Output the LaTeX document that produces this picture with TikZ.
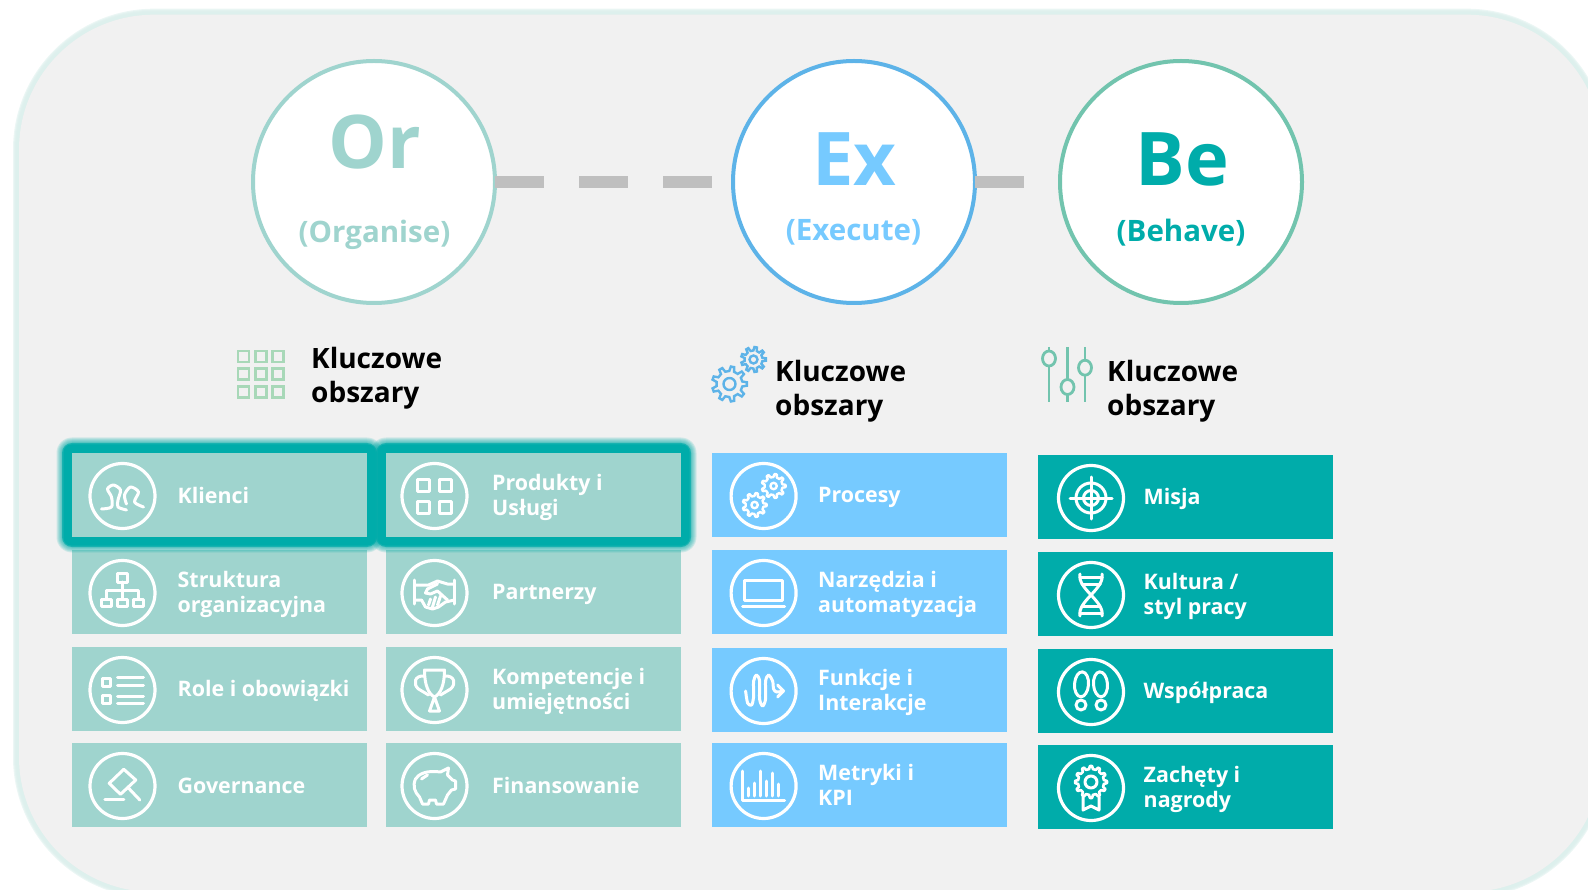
\documentclass[tikz,border=0pt]{standalone}
\usepackage{fontspec}
\setmainfont{Open Sans}
\usetikzlibrary{calc}
\definecolor{panelc}{HTML}{F1F1F1}
\definecolor{panelg}{HTML}{DCEFEC}
\definecolor{orc}{HTML}{9FD4CE}
\definecolor{exc}{HTML}{76CAFF}
\definecolor{exs}{HTML}{5DB3E8}
\definecolor{bec}{HTML}{00ACAA}
\definecolor{bes}{HTML}{72C4AE}
\definecolor{dashc}{HTML}{BFBFBF}
\definecolor{gridc}{HTML}{A8D8B8}
\newcommand{\bigfs}{\fontsize{74}{74}\selectfont\bfseries}
\newcommand{\subfs}{\fontsize{29.5}{34}\selectfont\bfseries}
\newcommand{\headfs}{\fontsize{28}{34}\selectfont\bfseries}
\newcommand{\tilefs}{\fontsize{21.4}{25.4}\selectfont\bfseries}
% centre, teeth, root radius, tip radius
\newcommand{\gearshape}[5][]{%
  \draw[#1,shift={(#2)}] (360/#3-99/#3:#4)
    \foreach \k [evaluate=\k as \a using 360*\k/#3] in {1,...,#3}
      { -- (\a-99/#3:#4) -- (\a-50/#3:#5) -- (\a+50/#3:#5) -- (\a+99/#3:#4) } -- cycle;}
\tikzset{
  x=1pt,y=-1pt,
  tilebox/.style={rectangle,minimum width=295pt,minimum height=84pt,inner sep=0pt,outer sep=0pt,anchor=north west},
  tilelabel/.style={anchor=west,align=left,text=white,inner sep=0pt,font=\tilefs},
  iconring/.style={circle,draw=white,line width=3.2pt,minimum size=65pt,inner sep=0pt},
  icn/.style={draw=white,line width=3pt,line join=round,line cap=round},
  bigcircle/.style={circle,fill=white,line width=4pt,minimum size=242pt,inner sep=0pt,outer sep=0pt},
  headlabel/.style={anchor=base west,align=left,text=black,inner sep=0pt,font=\headfs},
  link/.style={draw=dashc,line width=11.5pt},
  ic klienci/.pic={
    \draw[icn] plot[smooth] coordinates {(-21,13) (-11,11) (-11,1) (-15,-7) (-9,-11) (-2,-6) (-4.5,4) (-4.5,11) (4,14)};
    \draw[icn] plot[smooth] coordinates {(4,8) (2,-1) (8,-9) (16,-4) (12,6) (21,11)};
  },
  ic produkty/.pic={
    \foreach \a in {-11,11}\foreach \b in {-11,11}
      \draw[icn] (\a-6,\b-6) rectangle (\a+6,\b+6);
  },
  ic struktura/.pic={
    \draw[icn] (-5,-20) rectangle (5,-11);
    \draw[icn] (0,-11) -- (0,6) (-16,6) -- (-16,-3) -- (16,-3) -- (16,6);
    \foreach \a in {-16,0,16}\draw[icn] (\a-5,6) rectangle (\a+5,13);
  },
  ic partner/.pic={
    \draw[icn] (-20,-13) -- (-20,11) (20,-13) -- (20,11);
    \draw[icn] (-20,-8) -- (-6,-8) -- (3,-12) -- (13,-9) -- (20,-9);
    \draw[icn] (-20,7) -- (-13,7) -- (-9,14) -- (-2,16) -- (4,14) -- (11,9) -- (20,7);
    \draw[icn] (3,-9) -- (-7,-4) -- (-9,0) -- (-4,1) -- (3,-2) -- (13,7);
    \draw[icn] (-4,6) -- (-6,12) (1,4) -- (-2,14) (6,3) -- (3,12);
  },
  ic role/.pic={
    \draw[icn] (-20,-12) rectangle (-12,-4) (-20,5) rectangle (-12,13);
    \draw[icn] (-5,-13) -- (21,-13) (-5,-5) -- (21,-5) (-5,6) -- (21,6) (-5,13) -- (21,13);
  },
  ic trophy/.pic={
    \draw[icn] (-10,-20) -- (10,-20) .. controls (10,-5) and (6,4) .. (0,7) .. controls (-6,4) and (-10,-5) .. (-10,-20) -- cycle;
    \draw[icn] (-10,-14) .. controls (-20,-15) and (-22,-6) .. (-16,-1) -- (-6,5);
    \draw[icn] (10,-14) .. controls (20,-15) and (22,-6) .. (16,-1) -- (6,5);
    \draw[icn] (0,7) -- (-5,21) -- (5,21) -- cycle;
  },
  ic gavel/.pic={
    \draw[icn] (1.3,-16.7) -- (13.3,-6) -- (-2,8.3) -- (-13.3,-2.7) -- cycle;
    \draw[icn] (5.7,1.7) -- (17.3,14);
    \draw[icn] (-17.7,13.3) -- (1.3,13.3);
  },
  ic piggy/.pic={
    \draw[icn] (6,-14) -- (14,-18) -- (13,-11) -- (18,-6) -- (21,-5) -- (21,3) -- (17,4) -- (13,9) -- (9,18) -- (2,18) -- (1,14) -- (-5,14) -- (-6,18) -- (-12,18) -- (-15,11) .. controls (-20,6) and (-22,0) .. (-19,-7) .. controls (-16,-12) and (-8,-16) .. (6,-14) -- cycle;
    \draw[icn] (-13,-7) -- (-7,-11);
  },
  ic gears/.pic={
    \gearshape[icn,line width=2.4pt]{10,-10}{9}{9}{12}
    \gearshape[icn,line width=2.4pt]{-9,9}{9}{9}{12}
    \draw[icn,line width=2.4pt] (10,-10) circle (3.2) (-9,9) circle (3.2);
  },
  ic laptop/.pic={
    \draw[icn] (-19,-13) rectangle (19,7);
    \draw[icn] (-21,13) -- (21,13);
  },
  ic wave/.pic={
    \draw[icn] plot[smooth] coordinates {(-18,0) (-16,12) (-12,14) (-10,6) (-10,-10) (-7,-16) (-4,-10) (-4,8) (-1,15) (2,8) (2,-10) (5,-16) (9,-10) (10,-2) (13,1) (20,0)};
    \draw[icn] (14,-6) -- (20,0) -- (14,6);
  },
  ic chart/.pic={
    \draw[icn] (-21,-15) -- (-21,14) -- (21,14);
    \draw[icn] (-15,10) -- (-15,2) (-9,10) -- (-9,-3) (-3,10) -- (-3,-15) (3,10) -- (3,-5) (9,10) -- (9,-13) (15,10) -- (15,-2);
  },
  ic target/.pic={
    \draw[icn] (0,0) circle (15) (0,0) circle (7.5);
    \draw[icn] (-21,0) -- (21,0) (0,-21) -- (0,21);
  },
  ic dna/.pic={
    \draw[icn] (-11,-21) .. controls (-14,-6) and (14,6) .. (11,21);
    \draw[icn] (11,-21) .. controls (14,-6) and (-14,6) .. (-11,21);
    \draw[icn] (-11,-18) -- (11,-18) (-9,-11) -- (9,-11) (-9,11) -- (9,11) (-11,18) -- (11,18);
  },
  ic steps/.pic={
    \draw[icn,rotate=-4] (-10,-7) ellipse (7 and 12.5);
    \draw[icn,rotate=4] (10,-7) ellipse (7 and 12.5);
    \draw[icn] (-10,13) circle (5) (10,13) circle (5);
  },
  ic rosette/.pic={
    \gearshape[icn,line width=2.6pt]{0,-6}{12}{13}{16}
    \draw[icn] (0,-6) circle (6);
    \draw[icn] (-8,9) -- (-8,22) -- (0,18) -- (8,22) -- (8,9);
  }
}
\newcommand{\tile}[8]{% name x y colour iconoffset icon text textoffset
  \node[tilebox,fill=#4] (#1) at (#2,#3) {};
  \node[iconring] (#1i) at ($(#1.west)+(#5,1)$) {};
  \pic at (#1i) {#6};
  \node[tilelabel] (#1t) at ($(#1.west)+(#8,0)$) {\rule{0pt}{21pt}#7\rule[-5pt]{0pt}{5pt}};
}
\newcommand{\glowat}[2]{%
  \foreach \e in {15.5,14.5,13.5,12.5,11.5,10.5,9.5}
    \fill[bec,opacity=.14,rounded corners=\e pt] (#1-\e,#2-\e) rectangle (#1+295+\e,#2+84+\e);
  \fill[bec,opacity=.7,rounded corners=10pt] (#1-10,#2-10) rectangle (#1+295+10,#2+84+10);
  \fill[bec,rounded corners=8pt] (#1-8.5,#2-8.5) rectangle (#1+295+8.5,#2+84+8.5);
}
\begin{document}
\begin{tikzpicture}
\useasboundingbox (0,0) rectangle (1588,890);
\clip (0,0) rectangle (1588,890);
% panel
\foreach \w in {12,10,8,6}
  \draw[panelg,opacity=.55,line width=\w pt,rounded corners=135pt] (19,14.7) rectangle (1602,892);
\fill[panelc,rounded corners=135pt] (19,14.7) rectangle (1602,892);
% circles
\node[bigcircle,draw=orc] (Or) at (374,182) {};
\node[bigcircle,draw=exs] (Ex) at (854,182) {};
\node[bigcircle,draw=bes] (Be) at (1181,182) {};
\draw[link,dash pattern=on 48.5pt off 35.5pt] (Or.east) -- (Ex.west);
\draw[link,dash pattern=on 48.5pt off 200pt] (Ex.east) -- (Be.west);
\node[anchor=base,text=orc,inner sep=0pt,font=\bigfs] (OrT) at (375,169) {Or};
\node[anchor=base,text=orc,inner sep=0pt,font=\subfs] (OrS) at (374.5,243) {(Organise)};
\node[anchor=base,text=exc,inner sep=0pt,font=\bigfs] (ExT) at (854.5,186) {Ex};
\node[anchor=base,text=exc,inner sep=0pt,font=\subfs] (ExS) at (853.5,241) {(Execute)};
\node[anchor=base,text=bec,inner sep=0pt,font=\bigfs] (BeT) at (1182,186) {Be};
\node[anchor=base,text=bec,inner sep=0pt,font=\subfs] (BeS) at (1181,242) {(Behave)};
% headers
\node[headlabel] (h1) at (311,402.5) {Kluczowe\\obszary};
\node[headlabel] (h2) at (775,415.5) {Kluczowe\\obszary};
\node[headlabel] (h3) at (1107,415.5) {Kluczowe\\obszary};
% grid icon
\foreach \a in {243.5,261,278}\foreach \b in {356.5,374,392}
  \draw[gridc,line width=2.4pt] (\a-5.5,\b-5.5) rectangle (\a+5.5,\b+5.5);
% gears icon
\gearshape[exs,line width=2.4pt]{729.5,384}{9}{13}{17.5}
\draw[exs,line width=2.4pt] (729.5,384) circle (6);
\gearshape[exs,line width=2.4pt]{753.5,359.5}{9}{9}{12.5}
\draw[exs,line width=2.4pt] (753.5,359.5) circle (4);
% sliders icon
\draw[bes,line width=2.8pt] (1049,347) -- (1049,402) (1067.5,347) -- (1067.5,402) (1085,347) -- (1085,402);
\draw[bes,line width=2.8pt,fill=panelc] (1049,358.5) ellipse (6.5 and 7.5) (1067.5,387) ellipse (6.5 and 7.5) (1085,367.7) ellipse (6.5 and 7.5);
% tiles: rows two to four
\tile{a2}{72}{550}{orc}{50.5}{ic struktura}{Struktura\\organizacyjna}{105.5}
\tile{a3}{72}{647}{orc}{50.5}{ic role}{Role i obowiązki}{105.5}
\tile{a4}{72}{743}{orc}{50.5}{ic gavel}{Governance}{105.5}
\tile{b2}{386}{550}{orc}{48.5}{ic partner}{Partnerzy}{106}
\tile{b3}{386}{647}{orc}{48.5}{ic trophy}{Kompetencje i\\umiejętności}{106}
\tile{b4}{386}{743}{orc}{48.5}{ic piggy}{Finansowanie}{106}
\glowat{72}{453}
\glowat{386}{453}
\tile{a1}{72}{453}{orc}{50.5}{ic klienci}{Klienci}{105.5}
\tile{b1}{386}{453}{orc}{48.5}{ic produkty}{Produkty i\\Usługi}{106}
\tile{c1}{712}{453}{exc}{51.6}{ic gears}{Procesy}{106}
\tile{c2}{712}{550}{exc}{51.6}{ic laptop}{Narzędzia i\\automatyzacja}{106}
\tile{c3}{712}{648}{exc}{51.6}{ic wave}{Funkcje i\\Interakcje}{106}
\tile{c4}{712}{743}{exc}{51.6}{ic chart}{Metryki i\\KPI}{106}
\tile{d1}{1038}{455}{bec}{53}{ic target}{Misja}{105.5}
\tile{d2}{1038}{552}{bec}{53}{ic dna}{Kultura /\\styl pracy}{105.5}
\tile{d3}{1038}{649}{bec}{53}{ic steps}{Współpraca}{105.5}
\tile{d4}{1038}{745}{bec}{53}{ic rosette}{Zachęty i\\nagrody}{105.5}
\end{tikzpicture}
\end{document}
